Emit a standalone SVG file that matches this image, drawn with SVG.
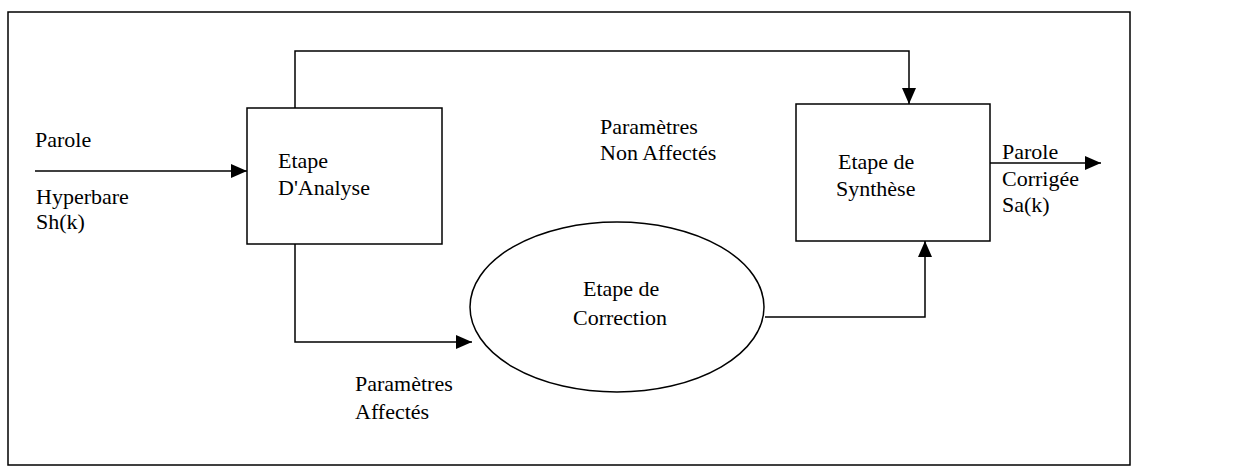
<svg xmlns="http://www.w3.org/2000/svg" width="1238" height="476" viewBox="0 0 1238 476">
<style>
  .frame{fill:none;stroke:#000;stroke-width:1.5}
  .node{fill:#fff;stroke:#000;stroke-width:1.5}
  .edge{fill:none;stroke:#000;stroke-width:1.5}
  text{font-family:"Liberation Serif","Times New Roman",serif;font-size:22px;fill:#000}
</style>
<defs>
  <marker id="arr" viewBox="0 0 16 14" refX="16" refY="7" markerWidth="16" markerHeight="14" markerUnits="userSpaceOnUse" orient="auto">
    <path d="M0,0 L16,7 L0,14 Z" fill="#000"/>
  </marker>
</defs>
<rect class="frame" x="8" y="12" width="1122" height="453"/>
<g id="connectors">
  <path class="edge" d="M35,171 H247" marker-end="url(#arr)"/>
  <path class="edge" d="M295,108 V51 H909 V104" marker-end="url(#arr)"/>
  <path class="edge" d="M295,244 V342 H472" marker-end="url(#arr)"/>
  <path class="edge" d="M765,317 H925 V241" marker-end="url(#arr)"/>
  <path class="edge" d="M990,163 H1101" marker-end="url(#arr)"/>
</g>
<g id="label-input">
  <text x="35" y="147">Parole</text>
  <text x="36" y="204">Hyperbare</text>
  <text x="36" y="229">Sh(k)</text>
</g>
<g id="analyse">
  <rect class="node" x="247" y="108" width="195" height="136"/>
  <text x="278" y="168">Etape</text>
  <text x="278" y="195">D'Analyse</text>
</g>
<g id="label-nonaffectes">
  <text x="600" y="134">Paramètres</text>
  <text x="600" y="160">Non Affectés</text>
</g>
<g id="synthese">
  <rect class="node" x="796" y="104" width="194" height="137"/>
  <text x="838" y="169">Etape de</text>
  <text x="836" y="196">Synthèse</text>
</g>
<g id="label-output">
  <text x="1002" y="159">Parole</text>
  <text x="1002" y="186">Corrigée</text>
  <text x="1002" y="212">Sa(k)</text>
</g>
<g id="correction">
  <ellipse class="node" cx="617" cy="307" rx="147" ry="85"/>
  <text x="583" y="296">Etape de</text>
  <text x="573" y="325">Correction</text>
</g>
<g id="label-affectes">
  <text x="355" y="391">Paramètres</text>
  <text x="355" y="419">Affectés</text>
</g>
</svg>
